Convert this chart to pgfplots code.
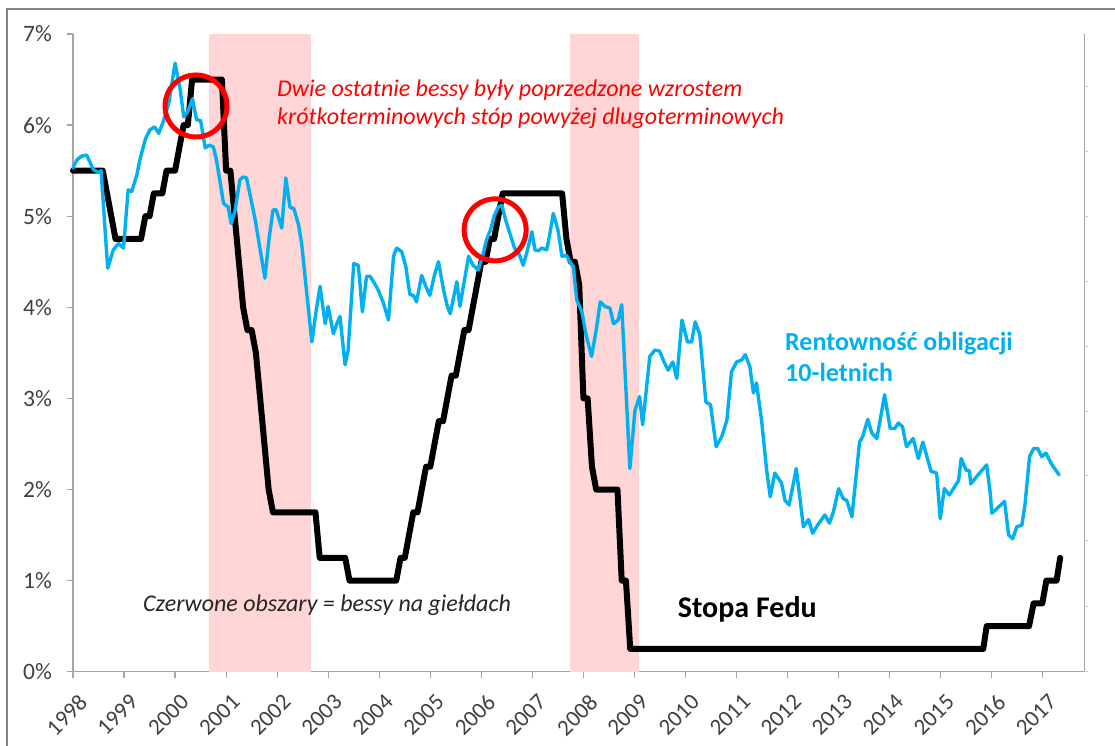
\documentclass[border=0pt]{standalone}
\usepackage{pgfplots}
\pgfplotsset{compat=1.18}
\usepackage{fontspec}
\setmainfont{Carlito}
\definecolor{bandpink}{RGB}{255,213,213}
\definecolor{yblue}{RGB}{0,176,240}
\definecolor{axgray}{RGB}{165,165,165}
\definecolor{lblgray}{RGB}{64,64,64}
\definecolor{framegray}{RGB}{130,130,130}
\begin{document}
\begin{tikzpicture}[x=1pt,y=1pt]
\useasboundingbox (-73,-73.3) rectangle (1042,671.7);
\begin{axis}[
  width=1011.3pt, height=637.7pt, scale only axis,
  xmin=1998, xmax=2017.813, ymin=0, ymax=7,
  axis x line*=bottom, axis y line*=left,
  axis line style={axgray, line width=1.2pt, -},
  xtick={1998,...,2017},
  xticklabels={1998,1999,2000,2001,2002,2003,2004,2005,2006,2007,2008,2009,2010,2011,2012,2013,2014,2015,2016,2017},
  ytick={0,...,7},
  yticklabels={0\%,1\%,2\%,3\%,4\%,5\%,6\%,7\%},
  tick align=outside, major tick length=6pt,
  tick style={axgray, line width=1.2pt},
  xticklabel shift=0pt, yticklabel shift=0pt,
  xticklabel style={xshift=4.5pt, yshift=-15pt, rotate=45, anchor=north east, inner sep=0pt, font=\fontsize{23}{24}\selectfont, text=lblgray},
  yticklabel style={xshift=-15pt, anchor=east, inner sep=0pt, font=\fontsize{23.5}{24}\selectfont, text=lblgray},
  clip=false,
]
% bear market bands
\addplot[fill=bandpink, draw=none] coordinates {(2000.67,0) (2000.67,7) (2002.67,7) (2002.67,0)} -- cycle;
\addplot[fill=bandpink, draw=none] coordinates {(2007.74,0) (2007.74,7) (2009.08,7) (2009.08,0)} -- cycle;
% Fed funds rate
\addplot[black, line width=6pt, line join=round, line cap=round] coordinates {
(1998.000,5.5) (1998.583,5.5) (1998.667,5.25) (1998.750,5.0) (1998.833,4.75)
(1999.333,4.75) (1999.417,5.0) (1999.500,5.0) (1999.583,5.25) (1999.750,5.25)
(1999.833,5.5) (2000.000,5.5) (2000.083,5.75) (2000.167,6.0) (2000.250,6.0)
(2000.333,6.5) (2000.917,6.5) (2001.000,5.5) (2001.083,5.5) (2001.167,5.0)
(2001.250,4.5) (2001.333,4.0) (2001.417,3.75) (2001.500,3.75) (2001.583,3.5)
(2001.667,3.0) (2001.750,2.5) (2001.833,2.0) (2001.917,1.75) (2002.750,1.75)
(2002.833,1.25) (2003.333,1.25) (2003.417,1.0) (2004.333,1.0) (2004.417,1.25)
(2004.500,1.25) (2004.583,1.5) (2004.667,1.75) (2004.750,1.75) (2004.833,2.0)
(2004.917,2.25) (2005.000,2.25) (2005.083,2.5) (2005.167,2.75) (2005.250,2.75)
(2005.333,3.0) (2005.417,3.25) (2005.500,3.25) (2005.583,3.5) (2005.667,3.75)
(2005.750,3.75) (2005.833,4.0) (2005.917,4.25) (2006.000,4.5) (2006.083,4.5)
(2006.167,4.75) (2006.250,4.75) (2006.333,5.0) (2006.417,5.25) (2007.583,5.25)
(2007.667,4.75) (2007.750,4.5) (2007.833,4.5) (2007.917,4.25) (2008.000,3.0)
(2008.083,3.0) (2008.167,2.25) (2008.250,2.0) (2008.667,2.0) (2008.750,1.0)
(2008.833,1.0) (2008.917,0.25) (2015.833,0.25) (2015.900,0.5) (2016.730,0.5)
(2016.820,0.75) (2016.990,0.75) (2017.070,1.0) (2017.270,1.0) (2017.340,1.25)
};
% 10-year yield
\addplot[yblue, line width=3.4pt, line join=round, line cap=round] coordinates {
(1998.00,5.53) (1998.08,5.62) (1998.17,5.66) (1998.27,5.67) (1998.40,5.51)
(1998.50,5.48) (1998.55,5.50) (1998.68,4.43) (1998.79,4.63) (1998.89,4.70)
(1998.99,4.65) (1999.08,5.29) (1999.15,5.27) (1999.25,5.45) (1999.31,5.62)
(1999.42,5.85) (1999.51,5.95) (1999.60,5.98) (1999.68,5.91) (1999.77,6.04)
(1999.88,6.25) (2000.00,6.68) (2000.10,6.39) (2000.17,6.09) (2000.25,6.15)
(2000.34,6.29) (2000.42,6.06) (2000.50,6.05) (2000.59,5.75) (2000.67,5.78)
(2000.75,5.76) (2000.81,5.62) (2000.95,5.14) (2001.04,5.10) (2001.10,4.92)
(2001.17,5.05) (2001.27,5.40) (2001.33,5.43) (2001.40,5.42) (2001.50,5.15)
(2001.57,4.96) (2001.67,4.62) (2001.76,4.32) (2001.84,4.75) (2001.92,5.07)
(2001.98,5.07) (2002.09,4.87) (2002.17,5.42) (2002.25,5.10) (2002.33,5.08)
(2002.42,4.90) (2002.48,4.70) (2002.58,4.15) (2002.68,3.62) (2002.76,3.95)
(2002.84,4.23) (2002.94,3.82) (2003.00,4.01) (2003.10,3.71) (2003.17,3.82)
(2003.23,3.90) (2003.33,3.37) (2003.39,3.53) (2003.50,4.48) (2003.59,4.46)
(2003.67,3.95) (2003.75,4.34) (2003.82,4.34) (2003.90,4.27) (2003.98,4.19)
(2004.08,4.05) (2004.18,3.86) (2004.28,4.56) (2004.34,4.65) (2004.44,4.61)
(2004.52,4.45) (2004.60,4.14) (2004.67,4.13) (2004.73,4.06) (2004.83,4.35)
(2004.92,4.22) (2004.99,4.13) (2005.08,4.35) (2005.16,4.50) (2005.26,4.19)
(2005.33,4.02) (2005.39,3.93) (2005.52,4.28) (2005.58,4.01) (2005.67,4.30)
(2005.75,4.56) (2005.84,4.46) (2005.94,4.41) (2006.02,4.55) (2006.10,4.74)
(2006.18,4.85) (2006.25,5.00) (2006.33,5.10) (2006.40,5.12) (2006.48,4.95)
(2006.56,4.81) (2006.65,4.65) (2006.73,4.60) (2006.82,4.46) (2006.90,4.62)
(2006.99,4.83) (2007.05,4.63) (2007.12,4.62) (2007.18,4.65) (2007.28,4.63)
(2007.34,4.80) (2007.41,5.03) (2007.50,4.85) (2007.58,4.56) (2007.67,4.57)
(2007.73,4.50) (2007.80,4.45) (2007.87,4.08) (2007.97,3.95) (2008.05,3.70)
(2008.16,3.46) (2008.25,3.75) (2008.33,4.06) (2008.42,4.01) (2008.52,3.99)
(2008.59,3.82) (2008.68,3.86) (2008.75,4.03) (2008.91,2.23) (2009.01,2.87)
(2009.10,3.02) (2009.16,2.71) (2009.30,3.46) (2009.40,3.53) (2009.49,3.52)
(2009.58,3.40) (2009.66,3.31) (2009.75,3.40) (2009.83,3.22) (2009.93,3.86)
(2010.04,3.62) (2010.12,3.62) (2010.19,3.84) (2010.28,3.70) (2010.40,2.96)
(2010.49,2.93) (2010.60,2.47) (2010.71,2.58) (2010.81,2.76) (2010.90,3.29)
(2011.00,3.40) (2011.10,3.42) (2011.17,3.48) (2011.26,3.35) (2011.33,3.06)
(2011.39,3.17) (2011.49,2.76) (2011.59,2.21) (2011.66,1.92) (2011.75,2.18)
(2011.88,2.07) (2011.95,1.88) (2012.03,1.83) (2012.17,2.23) (2012.31,1.59)
(2012.41,1.67) (2012.49,1.52) (2012.60,1.62) (2012.73,1.72) (2012.82,1.63)
(2012.90,1.76) (2013.00,2.01) (2013.09,1.90) (2013.16,1.88) (2013.26,1.70)
(2013.41,2.52) (2013.47,2.58) (2013.57,2.77) (2013.65,2.62) (2013.75,2.56)
(2013.90,3.04) (2014.01,2.67) (2014.10,2.67) (2014.17,2.73) (2014.25,2.69)
(2014.33,2.47) (2014.46,2.56) (2014.56,2.34) (2014.65,2.52) (2014.81,2.20)
(2014.92,2.18) (2014.99,1.68) (2015.07,2.01) (2015.17,1.94) (2015.25,2.01)
(2015.35,2.10) (2015.40,2.34) (2015.50,2.21) (2015.56,2.21) (2015.59,2.06)
(2015.70,2.14) (2015.90,2.27) (2015.97,1.96) (2016.00,1.74) (2016.10,1.79)
(2016.25,1.87) (2016.33,1.50) (2016.41,1.46) (2016.49,1.59) (2016.59,1.61)
(2016.65,1.83) (2016.74,2.36) (2016.82,2.45) (2016.90,2.45) (2016.98,2.36)
(2017.06,2.40) (2017.18,2.27) (2017.32,2.16)
};
% red circles
\addplot[only marks, mark=o, mark size=31pt, red, mark options={line width=5pt}] coordinates {(2000.41,6.21) (2006.27,4.85)};
\end{axis}
% secondary axis line on the right
\draw[axgray, line width=1.2pt] (1011.3,0) -- (1011.3,637.7);
\foreach \yy in {0.7,65.7,131.7,196.7,260.7,325.7,390.7,455.7,520.7,585.7}
  \draw[axgray!60, line width=0.8pt] (1011.3,\yy) -- (1015.3,\yy);
% outer frame (top and left edges)
\draw[framegray, line width=1.5pt] (-66,-80) -- (-66,662.7) -- (1060,662.7);
% annotations
\node[anchor=base west, inner sep=0pt, text=red, font=\fontsize{24}{28}\selectfont\itshape] at (204,575.2) {Dwie ostatnie bessy były poprzedzone wzrostem};
\node[anchor=base west, inner sep=0pt, text=red, font=\fontsize{24}{28}\selectfont\itshape] at (204,546.7) {krótkoterminowych stóp powyżej dlugoterminowych};
\node[anchor=base west, inner sep=0pt, text=yblue, font=\fontsize{26}{30}\selectfont\bfseries] at (712,321.7) {Rentowność obligacji};
\node[anchor=base west, inner sep=0pt, text=yblue, font=\fontsize{26}{30}\selectfont\bfseries] at (712,290) {10-letnich};
\node[anchor=base west, inner sep=0pt, text=black, font=\fontsize{30}{34}\selectfont\bfseries] at (604.7,54.4) {Stopa Fedu};
\node[anchor=base west, inner sep=0pt, text=black!85, font=\fontsize{24}{28}\selectfont\itshape] at (70,60) {Czerwone obszary = bessy na giełdach};
\end{tikzpicture}
\end{document}
